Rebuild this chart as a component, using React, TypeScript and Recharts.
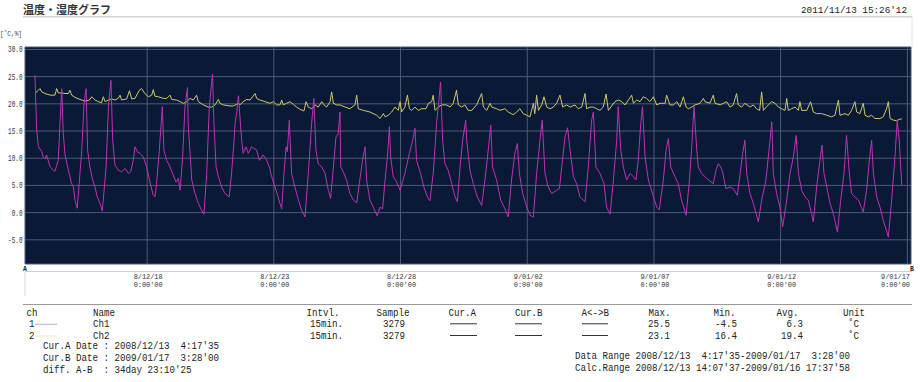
import React from "react";
import { LineChart, Line, XAxis, YAxis, CartesianGrid } from "recharts";

// day = days since 2008/12/13 0:00, value in deg C
const ch1: [number, number][] = [
  [0.57, 25.3], [0.64, 15.2], [0.71, 12.1], [0.84, 11.2], [0.9, 10.2], [0.97, 9.9], [1.03, 10.6], [1.17, 8.4],
  [1.3, 7.8], [1.36, 7.6], [1.49, 9.6], [1.53, 13.3], [1.59, 19.4], [1.63, 22.8], [1.69, 14.5], [1.76, 10.6],
  [1.89, 7.8], [2.02, 5.3], [2.09, 4.7], [2.15, 2.3], [2.24, 0.8], [2.42, 11.5], [2.51, 20.1], [2.59, 22.8],
  [2.65, 11.5], [2.74, 8.4], [2.85, 6.0], [2.94, 4.7], [3.03, 2.9], [3.14, 1.7], [3.23, 0.3], [3.38, 8.4],
  [3.47, 19.4], [3.57, 24.3], [3.64, 13.3], [3.73, 8.7], [3.86, 7.8], [3.99, 7.5], [4.13, 8.1], [4.26, 7.2],
  [4.35, 7.5], [4.45, 9.6], [4.52, 12.1], [4.61, 11.2], [4.72, 10.9], [4.85, 10.2], [4.98, 8.4], [5.11, 5.6],
  [5.24, 3.2], [5.31, 2.9], [5.37, 5.3], [5.48, 11.5], [5.6, 19.5], [5.66, 11.5], [5.77, 9.6], [5.9, 8.4],
  [6.03, 6.9], [6.14, 5.6], [6.23, 6.3], [6.3, 4.1], [6.4, 10.2], [6.49, 19.4], [6.59, 23.0], [6.62, 16.4],
  [6.76, 6.0], [6.89, 3.5], [7.02, 1.7], [7.12, 0.7], [7.24, -0.3], [7.35, 7.2], [7.45, 19.4], [7.58, 25.5],
  [7.64, 16.0], [7.72, 8.4], [7.81, 6.6], [7.94, 4.7], [8.07, 3.5], [8.24, 2.9], [8.33, 7.2], [8.43, 13.3],
  [8.47, 16.4], [8.53, 18.2], [8.6, 21.5], [8.73, 13.3], [8.79, 10.9], [8.9, 12.1], [8.99, 10.9], [9.12, 12.1],
  [9.32, 11.5], [9.43, 9.6], [9.58, 10.6], [9.72, 9.6], [9.82, 8.4], [9.95, 6.0], [10.11, 3.8], [10.24, 1.7],
  [10.31, 0.7], [10.4, 7.2], [10.48, 12.1], [10.53, 11.2], [10.61, 17.0], [10.7, 7.2], [10.83, 4.7], [10.97, 2.3],
  [11.1, 0.4], [11.23, -0.8], [11.36, 7.2], [11.49, 16.4], [11.58, 21.0], [11.66, 11.5], [11.75, 9.0], [11.89, 8.4],
  [12.02, 7.2], [12.15, 4.1], [12.24, 2.6], [12.35, 8.4], [12.45, 13.9], [12.54, 14.5], [12.61, 18.5], [12.64, 8.4],
  [12.74, 7.5], [12.87, 6.0], [13.0, 3.5], [13.14, 2.3], [13.27, 1.8], [13.37, 5.3], [13.5, 9.6], [13.6, 12.1],
  [13.66, 6.0], [13.79, 2.3], [13.95, 0.7], [14.08, -0.6], [14.19, 1.0], [14.29, 0.7], [14.39, 6.0], [14.48, 10.2],
  [14.56, 15.8], [14.61, 10.2], [14.71, 6.6], [14.85, 5.6], [14.98, 4.1], [15.17, 7.2], [15.35, 10.9], [15.48, 13.3],
  [15.57, 15.5], [15.63, 9.6], [15.79, 7.2], [15.92, 4.7], [16.06, 2.9], [16.16, 2.2], [16.29, 7.2], [16.42, 16.4],
  [16.58, 24.0], [16.66, 13.3], [16.75, 9.0], [16.88, 7.8], [17.02, 5.3], [17.15, 2.9], [17.24, 2.0], [17.35, 8.4],
  [17.45, 13.3], [17.57, 17.0], [17.61, 13.3], [17.74, 7.8], [17.87, 5.3], [18.03, 2.9], [18.2, 1.3], [18.33, 6.0],
  [18.46, 11.5], [18.56, 16.1], [18.63, 8.4], [18.79, 6.0], [18.95, 2.3], [19.12, 0.7], [19.25, -0.8], [19.38, 6.0],
  [19.51, 10.9], [19.61, 12.7], [19.69, 7.2], [19.82, 3.5], [19.98, 1.0], [20.11, -0.5], [20.24, -0.8], [20.37, 7.2],
  [20.5, 13.3], [20.59, 17.0], [20.7, 7.2], [20.83, 4.7], [20.96, 3.5], [21.16, 4.1], [21.27, 4.4], [21.36, 8.4],
  [21.49, 13.9], [21.59, 15.6], [21.69, 11.5], [21.82, 6.6], [21.95, 5.3], [22.08, 2.9], [22.28, 2.0], [22.41, 8.4],
  [22.54, 17.0], [22.61, 18.5], [22.71, 8.4], [22.87, 7.2], [23.03, 5.3], [23.13, 1.0], [23.27, -0.3], [23.4, 6.0],
  [23.53, 13.3], [23.59, 19.5], [23.69, 11.5], [23.79, 8.4], [23.92, 6.0], [24.06, 7.2], [24.19, 6.6], [24.29, 6.0],
  [24.38, 9.6], [24.48, 16.4], [24.55, 19.5], [24.65, 10.2], [24.78, 6.0], [24.98, 2.9], [25.11, 1.0], [25.21, 0.5],
  [25.37, 6.0], [25.48, 11.5], [25.57, 13.6], [25.66, 8.4], [25.83, 6.6], [25.96, 5.3], [26.09, 2.3], [26.27, -0.5],
  [26.4, 6.0], [26.49, 12.1], [26.58, 19.5], [26.69, 11.5], [26.75, 8.4], [26.88, 7.2], [27.08, 6.3], [27.34, 5.3],
  [27.45, 7.8], [27.54, 9.0], [27.63, 8.4], [27.71, 7.5], [27.84, 4.4], [28.0, 4.7], [28.13, 4.4], [28.29, 3.2],
  [28.4, 7.2], [28.5, 10.9], [28.59, 13.3], [28.66, 7.2], [28.79, 3.5], [28.92, 1.7], [29.12, -1.7], [29.25, 2.3],
  [29.42, 6.0], [29.58, 13.3], [29.65, 16.7], [29.71, 7.2], [29.84, 3.5], [29.97, 1.0], [30.08, -2.6], [30.24, 2.3],
  [30.37, 7.2], [30.5, 10.2], [30.61, 14.2], [30.7, 7.2], [30.83, 4.1], [30.96, 2.9], [31.09, 2.3], [31.22, -0.2],
  [31.29, -1.7], [31.42, 4.7], [31.55, 9.6], [31.63, 12.4], [31.71, 7.2], [31.82, 4.7], [31.95, 1.7], [32.08, -0.2],
  [32.24, -3.6], [32.37, 2.3], [32.5, 7.2], [32.6, 14.2], [32.71, 7.2], [32.8, 3.5], [32.93, 2.9], [33.07, 2.3],
  [33.26, 0.1], [33.39, 4.1], [33.5, 9.6], [33.59, 13.3], [33.66, 7.2], [33.79, 2.9], [33.92, 1.0], [34.05, -1.4],
  [34.25, -4.5], [34.38, 2.3], [34.51, 10.2], [34.6, 17.0], [34.68, 13.3], [34.78, 5.0],
];

const ch2: [number, number][] = [
  [0.57, 21.9], [0.71, 22.5], [0.77, 22.8], [0.84, 22.2], [0.97, 21.9], [1.17, 21.6], [1.36, 21.6], [1.43, 22.8],
  [1.49, 22.0], [1.63, 22.0], [1.76, 21.9], [1.89, 21.9], [1.95, 22.5], [2.02, 21.6], [2.15, 21.2], [2.35, 20.8],
  [2.55, 20.5], [2.72, 20.7], [2.81, 21.3], [2.94, 20.7], [3.07, 20.4], [3.2, 20.2], [3.27, 21.3], [3.34, 20.4],
  [3.47, 20.7], [3.6, 20.9], [3.73, 20.7], [3.86, 21.0], [3.93, 21.6], [3.99, 20.7], [4.19, 20.9], [4.3, 22.4],
  [4.39, 20.9], [4.52, 21.0], [4.69, 22.5], [4.78, 22.8], [4.91, 21.9], [5.05, 21.3], [5.18, 21.6], [5.24, 22.6],
  [5.31, 21.4], [5.44, 21.3], [5.64, 21.0], [5.77, 21.0], [5.9, 21.6], [5.97, 20.8], [6.16, 20.7], [6.3, 20.4],
  [6.43, 20.1], [6.56, 20.4], [6.69, 21.0], [6.82, 20.7], [6.95, 21.6], [7.02, 20.4], [7.22, 19.8], [7.41, 19.4],
  [7.55, 19.4], [7.68, 19.8], [7.81, 20.8], [7.87, 20.1], [8.01, 19.8], [8.27, 19.6], [8.4, 19.6], [8.6, 20.1],
  [8.66, 19.8], [8.79, 20.4], [8.93, 20.8], [9.06, 20.7], [9.26, 21.9], [9.32, 21.0], [9.45, 20.7], [9.65, 20.4],
  [9.85, 20.1], [9.98, 20.4], [10.11, 19.8], [10.24, 19.8], [10.31, 20.7], [10.37, 19.8], [10.5, 20.1], [10.64, 20.4],
  [10.77, 19.9], [10.9, 19.4], [11.03, 19.0], [11.19, 18.7], [11.27, 20.4], [11.36, 19.4], [11.49, 19.1], [11.62, 19.8],
  [11.75, 19.4], [11.89, 20.4], [11.98, 19.8], [12.08, 19.4], [12.22, 20.4], [12.28, 22.2], [12.35, 20.1], [12.48, 19.8],
  [12.61, 19.8], [12.81, 19.4], [13.0, 19.1], [13.2, 19.8], [13.27, 21.6], [13.33, 19.1], [13.53, 18.8], [13.79, 18.5],
  [14.06, 17.9], [14.19, 17.3], [14.32, 18.2], [14.39, 17.6], [14.52, 17.9], [14.65, 18.5], [14.78, 19.4], [14.91, 18.8],
  [14.98, 20.4], [15.04, 18.5], [15.17, 19.4], [15.27, 21.6], [15.35, 19.1], [15.44, 18.8], [15.57, 19.4], [15.7, 18.8],
  [15.83, 19.1], [16.0, 19.1], [16.1, 20.1], [16.23, 20.4], [16.29, 21.6], [16.36, 18.8], [16.49, 19.4], [16.62, 19.8],
  [16.82, 19.8], [16.95, 19.4], [17.08, 20.1], [17.21, 22.5], [17.28, 19.8], [17.41, 19.4], [17.54, 19.8], [17.67, 18.8],
  [17.81, 18.8], [18.0, 19.8], [18.2, 21.9], [18.27, 19.4], [18.4, 18.8], [18.53, 20.1], [18.6, 19.4], [18.79, 19.1],
  [18.92, 18.8], [19.12, 19.1], [19.25, 18.5], [19.45, 18.0], [19.58, 18.5], [19.71, 19.1], [19.84, 18.2], [19.98, 17.9],
  [20.11, 17.6], [20.24, 20.1], [20.3, 18.2], [20.37, 21.6], [20.44, 18.8], [20.57, 19.8], [20.66, 21.3], [20.77, 19.4],
  [20.9, 19.1], [21.03, 19.4], [21.16, 20.1], [21.29, 21.6], [21.4, 19.4], [21.55, 19.8], [21.69, 19.4], [21.88, 19.8],
  [22.01, 19.1], [22.15, 19.4], [22.28, 21.9], [22.34, 19.1], [22.48, 19.4], [22.61, 19.4], [22.74, 19.1], [22.87, 18.8],
  [23.0, 19.4], [23.11, 21.8], [23.2, 18.8], [23.46, 20.4], [23.59, 20.7], [23.73, 20.4], [23.86, 19.8], [23.99, 20.7],
  [24.12, 21.6], [24.19, 20.1], [24.32, 20.7], [24.45, 20.4], [24.58, 21.3], [24.71, 21.0], [24.84, 20.4], [24.98, 21.3],
  [25.11, 19.8], [25.24, 20.1], [25.44, 20.1], [25.5, 21.6], [25.63, 19.8], [25.77, 19.8], [25.9, 20.4], [26.03, 19.4],
  [26.16, 21.3], [26.27, 19.4], [26.36, 19.1], [26.49, 19.4], [26.62, 19.8], [26.82, 20.1], [26.95, 21.0], [27.01, 20.4],
  [27.21, 20.1], [27.34, 21.6], [27.41, 20.1], [27.61, 19.8], [27.74, 20.1], [27.87, 20.4], [28.0, 19.4], [28.13, 19.8],
  [28.26, 21.9], [28.33, 19.8], [28.46, 19.4], [28.59, 20.1], [28.79, 19.4], [28.92, 19.8], [29.05, 19.1], [29.17, 18.8],
  [29.25, 22.2], [29.32, 18.8], [29.51, 19.8], [29.65, 20.4], [29.78, 20.1], [29.91, 19.4], [30.04, 19.1], [30.17, 18.8],
  [30.24, 21.0], [30.3, 18.8], [30.43, 19.1], [30.57, 19.4], [30.7, 18.8], [30.76, 20.4], [30.83, 18.8], [31.03, 18.8],
  [31.18, 20.4], [31.29, 18.5], [31.42, 18.2], [31.62, 18.2], [31.82, 17.9], [32.01, 17.6], [32.14, 17.9], [32.28, 20.7],
  [32.34, 17.9], [32.54, 18.2], [32.67, 17.9], [32.8, 18.8], [32.93, 20.4], [33.0, 18.5], [33.13, 18.2], [33.26, 20.1],
  [33.33, 17.9], [33.46, 17.6], [33.59, 17.9], [33.72, 17.3], [33.92, 17.3], [34.05, 17.6], [34.18, 19.1], [34.25, 20.4],
  [34.32, 17.3], [34.45, 17.0], [34.58, 16.9], [34.71, 17.2], [34.78, 17.2],
];

const yTicks = [-5, 0, 5, 10, 15, 20, 25, 30];
const xTickDays = [5, 10, 15, 20, 25, 30, 35];
const xTickLabels = ["8/12/18", "8/12/23", "8/12/28", "9/01/02", "9/01/07", "9/01/12", "9/01/17"];

// summary table
const chNos = ["1", "2"];
const chNames = ["Ch1", "Ch2"];
const intervals = ["15min.", "15min."];
const samples = ["3279", "3279"];
const maxVals = ["25.5", "23.1"];
const minVals = ["-4.5", "16.4"];
const avgVals = ["6.3", "19.4"];
const units = ["˚C", "˚C"];

const W = 920;
const H = 382;
const PLOT = { left: 25, right: 911, top: 47, bottom: 264 };
const X_AXIS_H = 30;
const MAGENTA = "#bd33b2";
const YELLOW = "#cdc86c";
const MONO = "'Liberation Mono', 'DejaVu Sans Mono', monospace";
const CW = 5.5; // char width of the condensed table font
const NB = "\u00a0";

const ch1Data = ch1.map(([d, v]) => ({ d, v }));
const ch2Data = ch2.map(([d, v]) => ({ d, v }));

const T = ({ x, y, s, size = 11, end = false }: { x: number; y: number; s: string; size?: number; end?: boolean }) => (
  <text
    x={x}
    y={y}
    dy={size * 0.36}
    fontSize={size}
    fontFamily={MONO}
    fill="#222"
    textAnchor={end ? "end" : "start"}
    textLength={s.length * CW}
    lengthAdjust="spacingAndGlyphs"
  >
    {s.replace(/ /g, NB)}
  </text>
);

const XTick = (props: any) => {
  const { x, payload } = props;
  const i = xTickDays.indexOf(payload.value);
  const atEdge = x + 16 > PLOT.right;
  const anchor = atEdge ? "end" : "middle";
  const tx = atEdge ? PLOT.right - 1 : x + 1;
  return (
    <g>
      <text x={tx} y={PLOT.bottom + 14.5} fontSize={8} fontFamily={MONO} fill="#333" textAnchor={anchor} textLength={29} lengthAdjust="spacingAndGlyphs">
        {xTickLabels[i]}
      </text>
      <text x={tx} y={PLOT.bottom + 23} fontSize={8} fontFamily={MONO} fill="#333" textAnchor={anchor} textLength={29} lengthAdjust="spacingAndGlyphs">
        0:00'00
      </text>
    </g>
  );
};

const YTick = (props: any) => {
  const { y, payload } = props;
  const s = payload.value.toFixed(1);
  return (
    <text x={22.5} y={y + 3} fontSize={8.5} fontFamily={MONO} fill="#333" textAnchor="end" textLength={s.length * 3.6} lengthAdjust="spacingAndGlyphs">
      {s}
    </text>
  );
};

const colX = {
  ch: 26.5, name: 93, intvl: 306.5, sample: 376.5, curA: 448.5, curB: 515, ab: 581.5,
  max: 648.5, min: 713.5, avg: 776.5, unit: 843,
};
const rowY = [323.3, 335];

export default function App() {
  return (
    <div style={{ position: "absolute", left: 0, top: 0, width: W, height: H, background: "#fff", overflow: "hidden" }}>
      <div style={{ position: "absolute", left: 0, top: 0 }}>
        <LineChart
          width={W}
          height={H}
          margin={{ top: PLOT.top, right: W - PLOT.right, bottom: H - PLOT.bottom - X_AXIS_H, left: 0 }}
        >
          <CartesianGrid fill="#0a1936" stroke="#4c5b76" strokeWidth={1} />
          <XAxis
            type="number"
            dataKey="d"
            domain={[0.179, 35.144]}
            ticks={xTickDays}
            allowDataOverflow
            height={X_AXIS_H}
            axisLine={false}
            tickLine={false}
            tick={XTick}
            interval={0}
          />
          <YAxis
            type="number"
            domain={[-9.45, 30.45]}
            ticks={yTicks}
            allowDataOverflow
            width={PLOT.left}
            axisLine={false}
            tickLine={false}
            tick={YTick}
            interval={0}
          />
          <Line data={ch2Data} dataKey="v" type="linear" stroke={YELLOW} strokeWidth={1} dot={false} isAnimationActive={false} />
          <Line data={ch1Data} dataKey="v" type="linear" stroke={MAGENTA} strokeWidth={1} dot={false} isAnimationActive={false} />
        </LineChart>
      </div>
      <svg width={W} height={H} style={{ position: "absolute", left: 0, top: 0, pointerEvents: "none" }}>
        {/* header */}
        <text x={23} y={14} fontSize={11} fontWeight={700} fontFamily="'Noto Sans CJK JP', sans-serif" fill="#333">
          温度・湿度グラフ
        </text>
        <text x={907} y={12.5} fontSize={9.3} fontFamily={MONO} fill="#222" textAnchor="end">
          2011/11/13 15:26'12
        </text>
        <line x1={23} x2={912} y1={16.8} y2={16.8} stroke="#d4d4d4" strokeWidth={1.5} />
        <line x1={912} x2={912} y1={17} y2={47} stroke="#e2e2e2" strokeWidth={1} />
        <text x={0} y={36} fontSize={7.5} fontFamily={MONO} fill="#444" textLength={22} lengthAdjust="spacingAndGlyphs">
          [˚C,%]
        </text>
        {/* cursor marks and axis frame */}
        <text x={23} y={270.5} fontSize={6.5} fontWeight={700} fontFamily={MONO} fill="#222">A</text>
        <text x={910} y={270.5} fontSize={6.5} fontWeight={700} fontFamily={MONO} fill="#222">B</text>
        <line x1={25} x2={912} y1={271.5} y2={271.5} stroke="#d0d0d0" strokeWidth={1} />
        <line x1={25} x2={25} y1={271.5} y2={296} stroke="#d8d8d8" strokeWidth={1} />
        <line x1={23} x2={912} y1={304.5} y2={304.5} stroke="#9a9a9a" strokeWidth={1} />
        {/* table header */}
        <T x={colX.ch} y={311.7} s="ch" />
        <T x={colX.name} y={311.7} s="Name" />
        <T x={colX.intvl} y={311.7} s="Intvl." />
        <T x={colX.sample} y={311.7} s="Sample" />
        <T x={colX.curA} y={311.7} s="Cur.A" />
        <T x={colX.curB} y={311.7} s="Cur.B" />
        <T x={colX.ab} y={311.7} s="A<->B" />
        <T x={colX.max} y={311.7} s="Max." />
        <T x={colX.min} y={311.7} s="Min." />
        <T x={colX.avg} y={311.7} s="Avg." />
        <T x={colX.unit} y={311.7} s="Unit" />
        {chNos.map((no, i) => {
          const y = rowY[i];
          return (
            <g key={no}>
              <T x={29} y={y} s={no} />
              <line x1={35} x2={57} y1={y + 1} y2={y + 1} stroke={i === 0 ? "#c9a6dc" : "#ecebc8"} strokeWidth={1} />
              <T x={colX.name} y={y} s={chNames[i]} />
              <T x={310} y={y} s={intervals[i]} />
              <T x={383} y={y} s={samples[i]} />
              <line x1={450} x2={477} y1={y + 0.5} y2={y + 0.5} stroke="#333" strokeWidth={1} />
              <line x1={515} x2={542} y1={y + 0.5} y2={y + 0.5} stroke="#333" strokeWidth={1} />
              <line x1={582} x2={608} y1={y + 0.5} y2={y + 0.5} stroke="#333" strokeWidth={1} />
              <T x={670} y={y} s={maxVals[i]} end />
              <T x={737} y={y} s={minVals[i]} end />
              <T x={803} y={y} s={avgVals[i]} end />
              <T x={848} y={y} s={units[i]} />
            </g>
          );
        })}
        <T x={43} y={345.3} s="Cur.A Date : 2008/12/13  4:17'35" />
        <T x={43} y={357} s="Cur.B Date : 2009/01/17  3:28'00" />
        <T x={43} y={369.5} s="diff. A-B  : 34day 23:10'25" />
        <T x={575} y={355} s="Data Range 2008/12/13  4:17'35-2009/01/17  3:28'00" />
        <T x={575} y={366.7} s="Calc.Range 2008/12/13 14:07'37-2009/01/16 17:37'58" />
      </svg>
    </div>
  );
}
